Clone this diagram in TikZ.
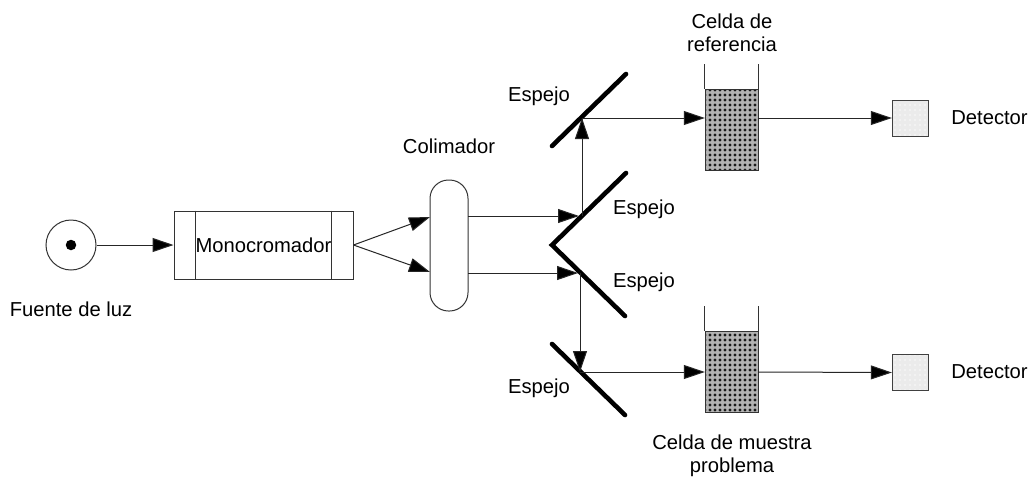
\documentclass[tikz,border=0pt]{standalone}
\usepackage{fontspec}
\setmainfont{Liberation Sans}
\usetikzlibrary{arrows.meta,patterns.meta,calc}
\tikzset{
  lbl/.style={font=\fontsize{20.2}{23}\selectfont,align=center,inner sep=0pt,text=black},
  ray/.style={draw=black!85,line width=1pt,-{Triangle[length=21pt,width=14pt,fill=black]}},
  mirror/.style={line width=4.6pt,line cap=round,line join=miter,draw=black},
  boxline/.style={draw=black!80,line width=1pt},
  liquid/.style={draw=none,fill=black!30,inner sep=0pt,minimum width=53pt,minimum height=81pt,
     postaction={pattern={Dots[distance=5pt,radius=1.6pt,angle=0]},pattern color=black!90},
     postaction={draw=black!80,line width=1pt}},
  det/.style={draw=none,fill=black!8,inner sep=0pt,minimum size=36pt,
     postaction={pattern={Dots[distance=5pt,radius=1.2pt,angle=0]},pattern color=black!4},
     postaction={draw=black!75,line width=1pt}},
}
\begin{document}
\begin{tikzpicture}[x=1pt,y=-1pt]
\useasboundingbox[fill=white] (0,0) rectangle (1030,480);
% source
\node[circle,boxline,minimum size=50pt,inner sep=0pt] (src) at (71,245) {};
\node[circle,fill=black,minimum size=10.5pt,inner sep=0pt] (dot) at (71,245) {};
\node[lbl] (srcl) at (71,309) {Fuente de luz};
% monochromator
\node[rectangle,boxline,minimum width=179pt,minimum height=68pt,inner sep=0pt] (mono) at (263.5,245) {};
\draw[boxline] ($(mono.north west)+(21.5,0)$) -- ($(mono.south west)+(21.5,0)$);
\draw[boxline] ($(mono.north east)+(-22,0)$) -- ($(mono.south east)+(-22,0)$);
\node[lbl] (monol) at (263.5,245) {Monocromador};
% collimator
\node[rectangle,boxline,rounded corners=18.5pt,minimum width=38pt,minimum height=131pt,inner sep=0pt] (col) at (449,245.5) {};
\node[lbl] (coll) at (449,146) {Colimador};
\coordinate (c1) at (430,217);
\coordinate (c2) at (430,272);
\draw[ray] (mono.east) -- (c1);
\draw[ray] (mono.east) -- (c2);
% mirrors
\coordinate (m1a) at (552,146);\coordinate (m1b) at (626,74);
\coordinate (m2a) at (626,173);\coordinate (m2v) at (552,245);\coordinate (m2b) at (625,316);
\coordinate (m3a) at (552,344);\coordinate (m3b) at (625,415);
\draw[mirror] (m1a) -- (m1b);
\draw[mirror] (m2a) -- (m2v) -- (m2b);
\draw[mirror] (m3a) -- (m3b);
\node[lbl] (e1) at (539,96) {Espejo};
\node[lbl] (e2) at (644,209) {Espejo};
\node[lbl] (e3) at (644,282) {Espejo};
\node[lbl] (e4) at (539,388) {Espejo};
% rays
\coordinate (r0) at (468,216);\coordinate (r1) at (579,216);\coordinate (r1b) at (582,216);\coordinate (r2) at (582,118);
\coordinate (s0) at (468,273);\coordinate (s1) at (578,273);\coordinate (s1b) at (580,273);\coordinate (s2) at (580,372);
% cells
\node[liquid] (cell1) at (731.5,129.5) {};
\draw[boxline] (cell1.north west) -- ++(0,-25);
\draw[boxline] (cell1.north east) -- ++(0,-25);
\node[liquid] (cell2) at (731.5,371.5) {};
\draw[boxline] (cell2.north west) -- ++(0,-25);
\draw[boxline] (cell2.north east) -- ++(0,-25);
\node[det] (d1) at (910,118) {};
\node[det] (d2) at (910,372.5) {};
\coordinate (t1) at (cell1.west |- r2);
\coordinate (t2) at (cell2.west |- s2);
\draw[ray] (r0) -- (r1);
\draw[ray] (r1b) -- (r2);
\draw[ray] (r2) -- (t1);
\draw[ray] (s0) -- (s1);
\draw[ray] (s1b) -- (s2);
\draw[ray] (s2) -- (t2);
\draw[ray] (cell1.east |- t1) -- (d1.west);
\draw[ray] (cell2.east |- t2) -- (d2.west);
\draw[ray] (src.east) -- (mono.west);
\node[lbl] (dl1) at (989.5,118) {Detector};
\node[lbl] (dl2) at (989.5,372) {Detector};
\node[lbl] (cl1) at (732,33) {Celda de\\referencia};
\node[lbl] (cl2) at (732,456) {Celda de muestra\\problema};
\end{tikzpicture}
\end{document}
